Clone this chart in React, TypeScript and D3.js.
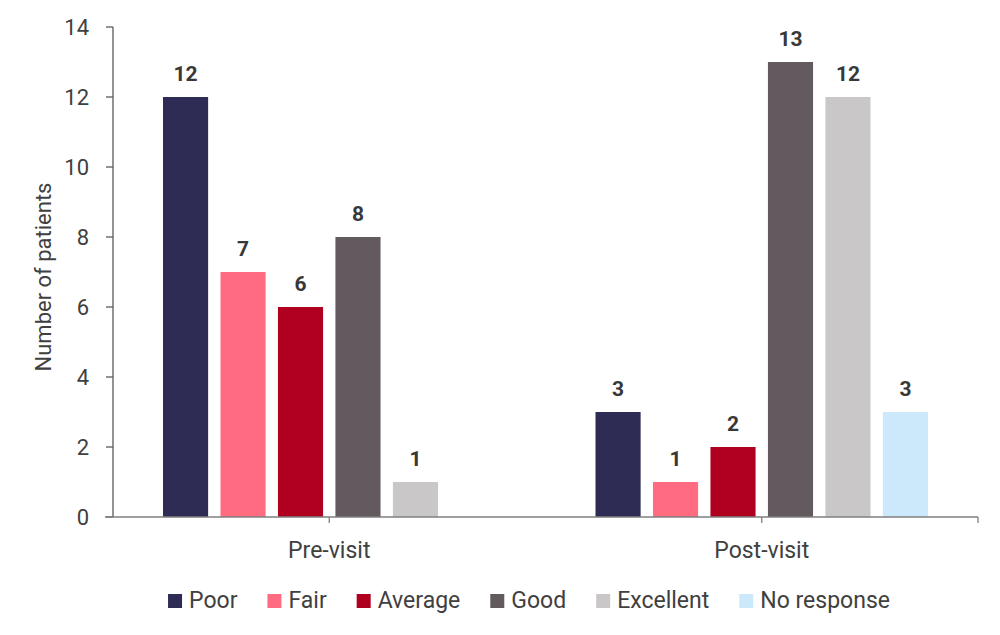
import { useEffect, useRef } from "react";
import * as d3 from "d3";

// Chart data
const groups = ["Pre-visit", "Post-visit"];
const series = ["Poor", "Fair", "Average", "Good", "Excellent", "No response"];
const preVisit = [12, 7, 6, 8, 1, null];
const postVisit = [3, 1, 2, 13, 12, 3];
const colors = ["#2e2b55", "#ff6b81", "#b0001f", "#625a5f", "#cac7c9", "#cbe9fb"];
const yTicks = [0, 2, 4, 6, 8, 10, 12, 14];

const values: (number | null)[][] = [preVisit, postVisit];

const FONT = "Roboto, 'Noto Sans', sans-serif";
const TEXT = "#404040";

export default function App() {
  const svgRef = useRef<SVGSVGElement>(null);

  useEffect(() => {
    if (!svgRef.current) return;
    const width = 1000;
    const svg = d3.select(svgRef.current);
    svg.selectAll("*").remove();

    const marginLeft = 113;
    const marginRight = 22;
    const marginTop = 27;
    const axisY = 517;

    const x0 = d3
      .scaleBand<string>()
      .domain(groups)
      .range([marginLeft, width - marginRight]);

    const x1 = d3
      .scaleBand<string>()
      .domain(series)
      .range([0, x0.bandwidth()])
      .paddingInner(0.215)
      .paddingOuter(0.87);

    const y = d3.scaleLinear().domain([0, 14]).range([axisY, marginTop]);

    // Bars
    const barG = svg.append("g");
    groups.forEach((g, gi) => {
      const rows = series
        .map((s, si) => ({ s, si, v: values[gi][si] }))
        .filter((d) => d.v !== null && d.v !== undefined) as {
        s: string;
        si: number;
        v: number;
      }[];

      const grp = barG.append("g").attr("transform", `translate(${x0(g)},0)`);

      grp
        .selectAll("rect")
        .data(rows)
        .join("rect")
        .attr("x", (d) => x1(d.s)!)
        .attr("y", (d) => y(d.v))
        .attr("width", x1.bandwidth())
        .attr("height", (d) => y(0) - y(d.v))
        .attr("fill", (d) => colors[d.si]);

      grp
        .selectAll("text")
        .data(rows)
        .join("text")
        .attr("x", (d) => x1(d.s)! + x1.bandwidth() / 2)
        .attr("y", (d) => y(d.v) - 16)
        .attr("text-anchor", "middle")
        .attr("font-family", FONT)
        .attr("font-weight", "bold")
        .attr("font-size", 21)
        .attr("fill", "#383838")
        .text((d) => d.v);
    });

    // Y axis
    const yAxis = svg.append("g");
    yAxis
      .append("line")
      .attr("x1", marginLeft)
      .attr("x2", marginLeft)
      .attr("y1", y(14))
      .attr("y2", y(0))
      .attr("stroke", "#595959")
      .attr("stroke-width", 1.3);
    yAxis
      .selectAll("line.tick")
      .data(yTicks)
      .join("line")
      .attr("class", "tick")
      .attr("x1", marginLeft - 7)
      .attr("x2", marginLeft)
      .attr("y1", (d) => y(d))
      .attr("y2", (d) => y(d))
      .attr("stroke", "#595959")
      .attr("stroke-width", 1.3);
    yAxis
      .selectAll("text")
      .data(yTicks)
      .join("text")
      .attr("x", 89)
      .attr("y", (d) => y(d) + 7.5)
      .attr("text-anchor", "end")
      .attr("font-family", FONT)
      .attr("font-size", 22)
      .attr("fill", TEXT)
      .text((d) => d);

    svg
      .append("text")
      .attr("transform", `translate(51,${(y(14) + y(0)) / 2 + 5}) rotate(-90)`)
      .attr("text-anchor", "middle")
      .attr("font-family", FONT)
      .attr("font-size", 22)
      .attr("fill", TEXT)
      .text("Number of patients");

    // X axis
    const xAxis = svg.append("g");
    xAxis
      .append("line")
      .attr("x1", marginLeft - 8)
      .attr("x2", width - marginRight)
      .attr("y1", axisY)
      .attr("y2", axisY)
      .attr("stroke", "#7f7f7f")
      .attr("stroke-width", 1.3);
    const xTickPos = [
      ...groups.map((g) => x0(g)! + x0.bandwidth() / 2),
      width - marginRight,
    ];
    xAxis
      .selectAll("line.tick")
      .data(xTickPos)
      .join("line")
      .attr("class", "tick")
      .attr("x1", (d) => d)
      .attr("x2", (d) => d)
      .attr("y1", axisY)
      .attr("y2", axisY + 6)
      .attr("stroke", "#7f7f7f")
      .attr("stroke-width", 1.3);
    xAxis
      .selectAll("text")
      .data(groups)
      .join("text")
      .attr("x", (d) => x0(d)! + x0.bandwidth() / 2)
      .attr("y", 558)
      .attr("text-anchor", "middle")
      .attr("font-family", FONT)
      .attr("font-size", 23)
      .attr("fill", TEXT)
      .text((d) => d);

    // Legend
    const legend = svg.append("g");
    const gap = 30;
    let lx = 0;
    series.forEach((s, i) => {
      const item = legend.append("g").attr("transform", `translate(${lx},0)`);
      item
        .append("rect")
        .attr("x", 0)
        .attr("y", -14)
        .attr("width", 14)
        .attr("height", 14)
        .attr("fill", colors[i]);
      const t = item
        .append("text")
        .attr("x", 21)
        .attr("y", 0)
        .attr("font-family", FONT)
        .attr("font-size", 23)
        .attr("fill", TEXT)
        .text(s);
      const w = (t.node() as SVGTextElement).getComputedTextLength();
      lx += 21 + w + gap;
    });
    const legendWidth = lx - gap;
    legend.attr("transform", `translate(${529 - legendWidth / 2},608)`);
  }, []);

  return (
    <div style={{ position: "absolute", left: 0, top: 0 }}>
      <svg ref={svgRef} width={1000} height={635} style={{ display: "block", background: "#fff" }} />
    </div>
  );
}
